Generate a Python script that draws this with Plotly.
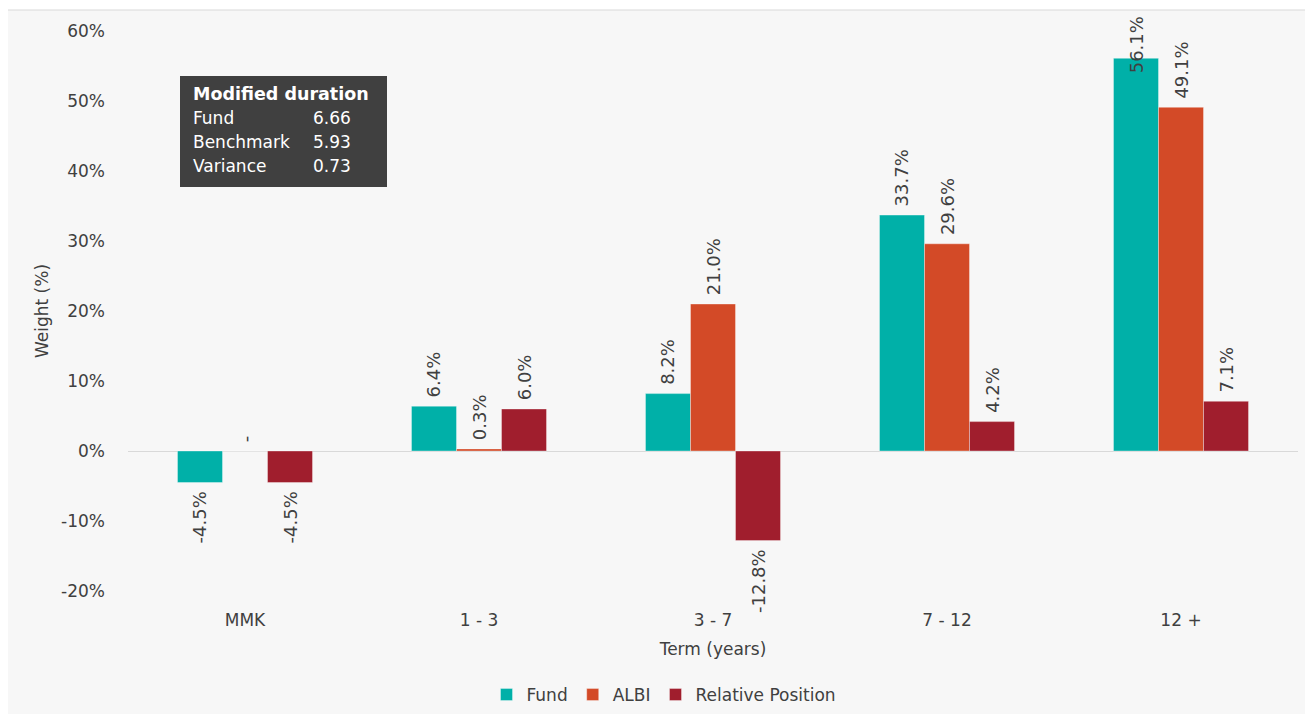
import plotly.graph_objects as go

categories = ["MMK", "1 - 3", "3 - 7", "7 - 12", "12 +"]
fund = [-4.5, 6.4, 8.2, 33.7, 56.1]
albi = [0.0, 0.3, 21.0, 29.6, 49.1]
relative = [-4.5, 6.0, -12.8, 4.2, 7.1]
series_names = ["Fund", "ALBI", "Relative Position"]
series_colors = ["#00B0A8", "#D34A27", "#A01E2D"]

y_ticks = [-20, -10, 0, 10, 20, 30, 40, 50, 60]
y_tick_labels = [f"{v}%" for v in y_ticks]

box_title = "Modified duration"
duration_labels = ["Fund", "Benchmark", "Variance"]
duration_values = ["6.66", "5.93", "0.73"]

FONT = "DejaVu Sans"
TXT = "#404040"
FS = 17
LFS = 18
W, H = 1305, 715
L, R, T, B = 128, 7, 31, 124
PW, PH = W - L - R, H - T - B
BARGAP = 0.423
YMAX = 60
NB = "\u00a0"


def px_x(x):
    return (x - L) / PW


def px_y(y):
    return (H - B - y) / PH


def fmt(v):
    if v == 0:
        return NB + "-"
    if v > 0:
        return NB + f"{v:.1f}%"
    return f"{v:.1f}%" + NB


# labels too close to the top of the chart are pulled down onto the bar (as Excel does)
TOP_LIMIT = 52
cat_px = PW / len(categories)
bar_px = cat_px * (1 - BARGAP) / len(series_names)

fig = go.Figure()
annotations = []
for si, (name, vals, col) in enumerate(zip(series_names, [fund, albi, relative], series_colors)):
    texts = []
    for ci, v in enumerate(vals):
        if v > TOP_LIMIT:
            texts.append("")
            annotations.append(dict(
                x=categories[ci], y=v, xref="x", yref="y",
                xshift=(si - (len(series_names) - 1) / 2) * bar_px,
                yshift=14, xanchor="center", yanchor="middle",
                textangle=-90, showarrow=False, text=f"{v:.1f}%",
                font=dict(family=FONT, size=LFS, color=TXT)))
        else:
            texts.append(fmt(v))
    fig.add_trace(go.Bar(
        x=categories, y=vals, name=name,
        marker=dict(color=col, line=dict(color="rgba(255,255,255,0.35)", width=1)),
        text=texts,
        textposition="outside", textangle=-90,
        textfont=dict(family=FONT, size=LFS, color=TXT),
        constraintext="none", cliponaxis=False,
    ))

shapes = [
    dict(type="rect", xref="paper", yref="paper", layer="below",
         x0=px_x(8), x1=px_x(1305), y0=px_y(714), y1=px_y(10),
         fillcolor="#F7F7F7", line=dict(width=0)),
    dict(type="line", xref="paper", yref="paper", layer="below",
         x0=px_x(8), x1=px_x(1305), y0=px_y(10), y1=px_y(10),
         line=dict(color="#D9D9D9", width=1)),
    dict(type="rect", xref="paper", yref="paper", layer="above",
         x0=px_x(180), x1=px_x(387), y0=px_y(187), y1=px_y(76),
         fillcolor="#404040", line=dict(width=0)),
]

annotations.append(dict(xref="paper", yref="paper", x=px_x(191), y=px_y(94),
                        xanchor="left", yanchor="middle", showarrow=False,
                        text=f"<b>{box_title}</b>",
                        font=dict(family=FONT, size=FS + 0.5, color="white")))
for i, (lab, val) in enumerate(zip(duration_labels, duration_values)):
    yy = px_y(118 + 24 * i)
    annotations.append(dict(xref="paper", yref="paper", x=px_x(191), y=yy,
                            xanchor="left", yanchor="middle", showarrow=False,
                            text=lab, font=dict(family=FONT, size=FS, color="white")))
    annotations.append(dict(xref="paper", yref="paper", x=px_x(311), y=yy,
                            xanchor="left", yanchor="middle", showarrow=False,
                            text=val, font=dict(family=FONT, size=FS, color="white")))

fig.update_layout(
    width=W, height=H,
    margin=dict(l=L, r=R, t=T, b=B, autoexpand=False),
    paper_bgcolor="white", plot_bgcolor="rgba(0,0,0,0)",
    barmode="group", bargap=BARGAP, bargroupgap=0,
    font=dict(family=FONT, size=FS, color=TXT),
    shapes=shapes, annotations=annotations,
    legend=dict(orientation="h", x=px_x(664), y=px_y(695),
                xanchor="center", yanchor="middle", itemwidth=30,
                font=dict(family=FONT, size=FS, color=TXT),
                bgcolor="rgba(0,0,0,0)", traceorder="normal"),
    xaxis=dict(showgrid=False, showline=False, ticks="",
               tickfont=dict(family=FONT, size=FS, color=TXT), ticklabelstandoff=17,
               title=dict(text="Term (years)", standoff=14,
                          font=dict(family=FONT, size=FS, color=TXT))),
    yaxis=dict(range=[-20, YMAX], tickvals=y_ticks, ticktext=y_tick_labels,
               showgrid=False, zeroline=True, zerolinecolor="#D9D9D9", zerolinewidth=1,
               tickfont=dict(family=FONT, size=FS, color=TXT), ticklabelstandoff=22,
               title=dict(text="Weight (%)", standoff=8,
                          font=dict(family=FONT, size=FS, color=TXT))),
)

fig.write_html("out.html")
